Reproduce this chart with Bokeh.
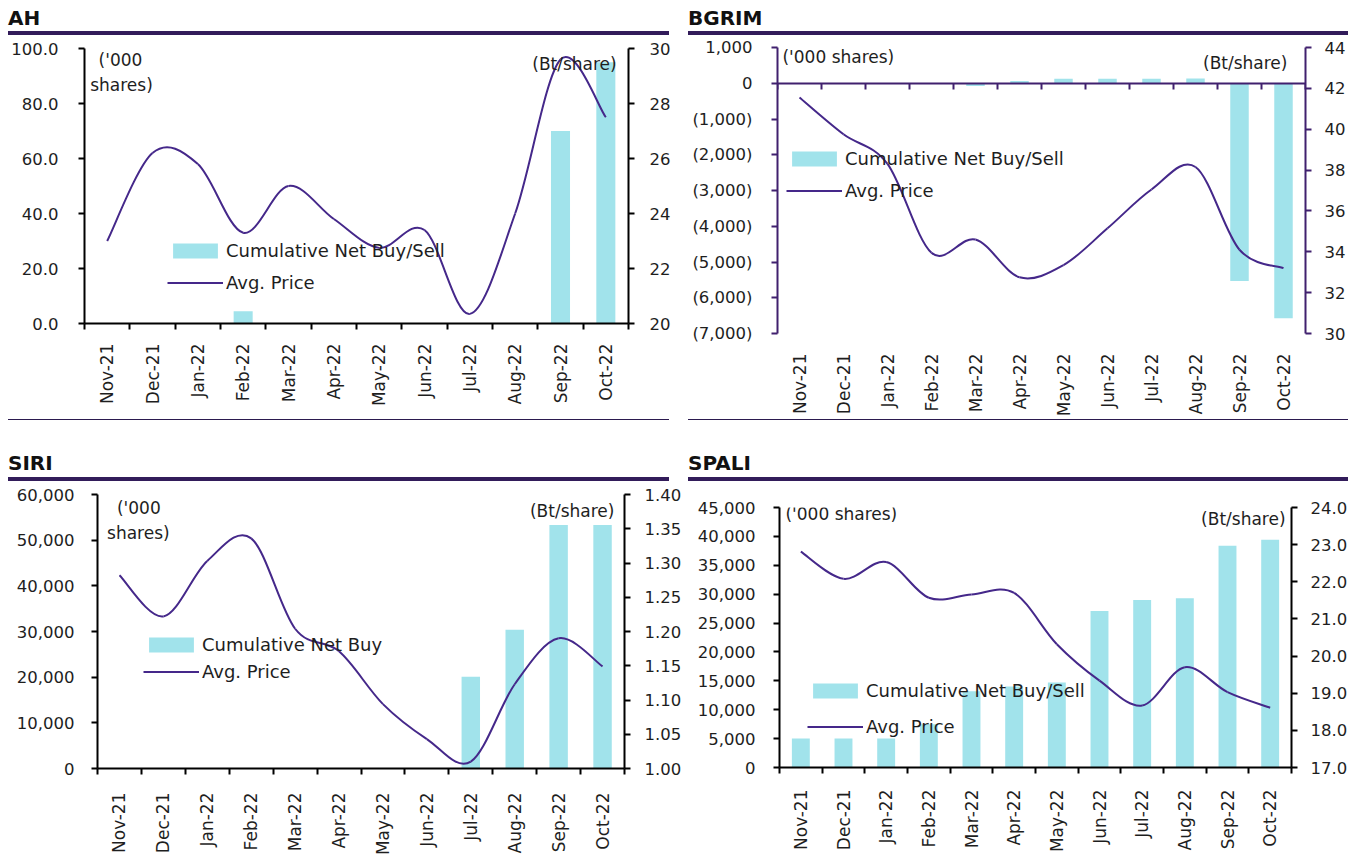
import math
from bokeh.plotting import figure
from bokeh.models import (Range1d, LinearAxis, FixedTicker, Legend, LegendItem,
                          Label, Div, Spacer)
from bokeh.layouts import column, row
from bokeh.core.properties import value
from bokeh.embed import file_html
from bokeh.resources import INLINE

# ---------------- data ----------------
MONTHS = ["Nov-21", "Dec-21", "Jan-22", "Feb-22", "Mar-22", "Apr-22",
          "May-22", "Jun-22", "Jul-22", "Aug-22", "Sep-22", "Oct-22"]

AH_NET = [0, 0, 0, 4.5, 0, 0, 0, 0, 0, 0, 70.0, 95.0]
AH_PRICE = [23.0, 26.2, 25.8, 23.3, 25.0, 23.8, 22.75, 23.4, 20.35, 24.0, 29.6, 27.5]
AH_LEFT_TICKS = [0, 20, 40, 60, 80, 100]
AH_RIGHT_TICKS = [20, 22, 24, 26, 28, 30]

BG_NET = [0, 0, 0, 0, -75, 65, 125, 125, 125, 130, -5530, -6575]
BG_PRICE = [41.55, 39.75, 38.3, 33.95, 34.6, 32.75, 33.35, 35.15, 37.05, 38.15, 34.1, 33.2]
BG_LEFT_TICKS = [-7000, -6000, -5000, -4000, -3000, -2000, -1000, 0, 1000]
BG_RIGHT_TICKS = [30, 32, 34, 36, 38, 40, 42, 44]

SIRI_NET = [0, 0, 0, 0, 0, 0, 0, 0, 20100, 30400, 53300, 53300]
SIRI_PRICE = [1.282, 1.222, 1.303, 1.336, 1.204, 1.171, 1.094, 1.043, 1.01, 1.123, 1.19, 1.149]
SIRI_LEFT_TICKS = [0, 10000, 20000, 30000, 40000, 50000, 60000]
SIRI_RIGHT_TICKS = [1.00, 1.05, 1.10, 1.15, 1.20, 1.25, 1.30, 1.35, 1.40]

SPALI_NET = [5000, 5000, 5000, 7500, 13200, 14000, 14700, 27100, 29000, 29300, 38400, 39400]
SPALI_PRICE = [22.81, 22.08, 22.53, 21.57, 21.66, 21.70, 20.32, 19.34, 18.67, 19.70, 19.03, 18.61]
SPALI_LEFT_TICKS = [0, 5000, 10000, 15000, 20000, 25000, 30000, 35000, 40000, 45000]
SPALI_RIGHT_TICKS = [17.0, 18.0, 19.0, 20.0, 21.0, 22.0, 23.0, 24.0]

# ---------------- style ----------------
FONT = "DejaVu Sans"
BAR_COLOR = "#A1E3EB"
LINE_COLOR = "#45288A"
HEAD_COLOR = "#321C5A"
TEXT_COLOR = "#1E1E1E"
TICK_FS = "16.5px"
CAT_FS = "17px"
LEG_FS = "18px"
UNIT_FS = "17px"


def paren_fmt(v):
    s = "{:,}".format(abs(int(v)))
    return "(" + s + ")" if v < 0 else s


def smooth_segments(xs, ys):
    """Excel-like smoothing: cubic Bezier control points from neighbours."""
    n = len(xs)
    out = dict(x0=[], y0=[], x1=[], y1=[], cx0=[], cy0=[], cx1=[], cy1=[])
    for i in range(n - 1):
        a = i - 1 if i > 0 else i
        d = i + 2 if i + 2 < n else i + 1
        out["x0"].append(xs[i]); out["y0"].append(ys[i])
        out["x1"].append(xs[i + 1]); out["y1"].append(ys[i + 1])
        out["cx0"].append(xs[i] + (xs[i + 1] - xs[a]) / 6.0)
        out["cy0"].append(ys[i] + (ys[i + 1] - ys[a]) / 6.0)
        out["cx1"].append(xs[i + 1] - (xs[d] - xs[i]) / 6.0)
        out["cy1"].append(ys[i + 1] - (ys[d] - ys[i]) / 6.0)
    return out


def yaxis(ticks, labels, color, standoff, **kw):
    return LinearAxis(
        ticker=FixedTicker(ticks=ticks),
        major_label_overrides={t: l for t, l in zip(ticks, labels)},
        axis_line_color=color, axis_line_width=2,
        major_tick_line_color=color, major_tick_line_width=2,
        major_tick_out=6, major_tick_in=0,
        minor_tick_line_color=None,
        major_label_text_font=FONT, major_label_text_font_size=TICK_FS,
        major_label_text_color=TEXT_COLOR,
        major_label_standoff=standoff, **kw)


def panel(net, price, lrange, lticks, llabels, rrange, rticks, rlabels,
          width, height, borders, axis_color, zero_axis, x_standoff,
          bar_label, legend_loc, legend_spacing, units, rstandoff=14, lstandoff=19):
    bl, br, bt, bb = borders
    p = figure(width=width, height=height, x_range=Range1d(-0.5, 11.5),
               y_range=Range1d(*lrange), x_axis_type=None, y_axis_type=None,
               output_backend="svg", toolbar_location=None,
               min_border_left=bl, min_border_right=br,
               min_border_top=bt, min_border_bottom=bb)
    p.outline_line_color = None
    p.grid.visible = False
    p.extra_y_ranges = {"price": Range1d(*rrange)}

    xs = list(range(len(MONTHS)))
    bounds = [i - 0.5 for i in range(len(MONTHS) + 1)]

    p.add_layout(yaxis(lticks, llabels, axis_color, lstandoff), "left")
    p.add_layout(yaxis(rticks, rlabels, axis_color, rstandoff, y_range_name="price"), "right")

    # category axis (labels at centres, ticks at boundaries)
    xa = LinearAxis(
        ticker=FixedTicker(ticks=xs, minor_ticks=bounds),
        major_label_overrides={i: m for i, m in zip(xs, MONTHS)},
        major_label_orientation=math.pi / 2,
        major_tick_out=0, major_tick_in=0, major_tick_line_color=None,
        minor_tick_out=6, minor_tick_in=0, minor_tick_line_width=2,
        minor_tick_line_color=axis_color,
        axis_line_color=axis_color, axis_line_width=2,
        major_label_text_font=FONT, major_label_text_font_size=CAT_FS,
        major_label_text_color=TEXT_COLOR, major_label_standoff=x_standoff)
    if zero_axis:
        xa.axis_line_color = None
        xa.minor_tick_line_color = None
        za = LinearAxis(
            fixed_location=0,
            ticker=FixedTicker(ticks=[], minor_ticks=bounds),
            major_tick_line_color=None, major_tick_in=0, major_tick_out=0,
            minor_tick_out=0, minor_tick_in=6, minor_tick_line_width=2,
            minor_tick_line_color=axis_color,
            axis_line_color=axis_color, axis_line_width=2,
            major_label_standoff=0, major_label_text_font_size="0px")
        p.add_layout(za, "above")
    p.add_layout(xa, "below")

    bars = p.vbar(x=xs, top=net, bottom=0, width=0.42, fill_color=BAR_COLOR,
                  line_color=None)
    seg = smooth_segments(xs, price)
    curve = p.bezier(line_color=LINE_COLOR, line_width=2, y_range_name="price", **seg)

    leg = Legend(items=[LegendItem(label=value(bar_label), renderers=[bars]),
                        LegendItem(label=value("Avg. Price"), renderers=[curve])],
                 location=legend_loc, orientation="vertical",
                 padding=0, margin=0, spacing=legend_spacing,
                 glyph_width=56, glyph_height=19, label_height=20,
                 label_standoff=3, label_text_font=FONT,
                 label_text_font_size=LEG_FS, label_text_color=TEXT_COLOR,
                 background_fill_alpha=0, border_line_alpha=0)
    p.add_layout(leg)

    for (tx, ty, txt, align, rng) in units:
        kw = {"y_range_name": "price"} if rng == "r" else {}
        p.add_layout(Label(x=tx, y=ty, text=txt, text_font=FONT, text_font_size=UNIT_FS,
                           text_color=TEXT_COLOR, text_align=align,
                           text_baseline="middle", **kw))
    return p


p_ah = panel(AH_NET, AH_PRICE, (0, 100), AH_LEFT_TICKS,
             ["{:.1f}".format(t) for t in AH_LEFT_TICKS],
             (20, 30), AH_RIGHT_TICKS, [str(t) for t in AH_RIGHT_TICKS],
             672, 384, (76, 52, 13, 96), "#000000", False, 14,
             "Cumulative Net Buy/Sell", (83, 30), 11,
             [(0.294, 96.0, "('000", "center", "l"),
              (0.316, 86.7, "shares)", "center", "l"),
              (11.24, 94.5, "(Bt/share)", "right", "l")],
             rstandoff=15, lstandoff=20)

p_bg = panel(BG_NET, BG_PRICE, (-7000, 1000), BG_LEFT_TICKS,
             [paren_fmt(t) for t in BG_LEFT_TICKS],
             (30, 44), BG_RIGHT_TICKS, [str(t) for t in BG_RIGHT_TICKS],
             660, 384, (89, 41, 12, 86), "#40206E", True, 14,
             "Cumulative Net Buy/Sell", (9, 132), 11,
             [(-0.387, 748, "('000 shares)", "left", "l"),
              (11.09, 580, "(Bt/share)", "right", "l")],
             rstandoff=13, lstandoff=19)

p_siri = panel(SIRI_NET, SIRI_PRICE, (0, 60000), SIRI_LEFT_TICKS,
               ["{:,}".format(t) for t in SIRI_LEFT_TICKS],
               (1.0, 1.4), SIRI_RIGHT_TICKS, ["{:.2f}".format(t) for t in SIRI_RIGHT_TICKS],
               676, 377, (89, 58, 13, 89), "#000000", False, 18,
               "Cumulative Net Buy", (46, 86), 6,
               [(0.441, 56950, "('000", "center", "l"),
                (0.43, 51600, "shares)", "center", "l"),
                (11.27, 56360, "(Bt/share)", "right", "l")],
               rstandoff=14, lstandoff=17)

p_spali = panel(SPALI_NET, SPALI_PRICE, (0, 45000), SPALI_LEFT_TICKS,
                ["{:,}".format(t) for t in SPALI_LEFT_TICKS],
                (17, 24), SPALI_RIGHT_TICKS, ["{:.1f}".format(t) for t in SPALI_RIGHT_TICKS],
                662, 374, (91, 56, 26, 87), "#000000", False, 16,
                "Cumulative Net Buy/Sell", (28, 30), 15,
                [(-0.36, 43790, "('000 shares)", "left", "l"),
                 (11.36, 42930, "(Bt/share)", "right", "l")],
                rstandoff=13, lstandoff=18)


def title_div(txt, w, h):
    return Div(text=txt, width=w, height=h, margin=0,
               styles={"border-bottom": "4px solid " + HEAD_COLOR,
                       "box-sizing": "border-box",
                       "font-family": "'DejaVu Sans'", "font-weight": "bold",
                       "font-size": "20px", "line-height": "20px",
                       "color": "#111111", "padding": "0", "overflow": "visible"})


def sep_div(w):
    return Div(text="", width=w, height=2, margin=0,
               styles={"border-top": "1.5px solid #2B1A4F",
                       "box-sizing": "border-box", "padding": "0"})


top = row(column(title_div("AH", 661, 27), p_ah, sep_div(661)),
          Spacer(width=8),
          column(title_div("BGRIM", 660, 27), p_bg, sep_div(660)))
bottom = row(column(title_div("SIRI", 661, 28), p_siri),
             Spacer(width=4),
             column(title_div("SPALI", 660, 28), p_spali))

body = column(top, Spacer(height=32), bottom)
layout = column(Spacer(height=8), row(Spacer(width=8), body))

open("out.html", "w").write(file_html(layout, INLINE, title="Net Buy/Sell"))
